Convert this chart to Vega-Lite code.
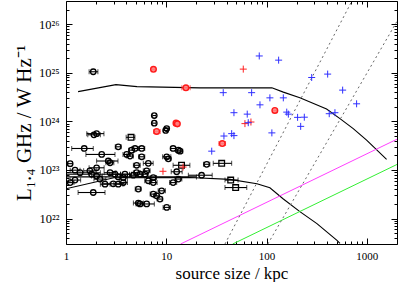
{
  "$schema": "https://vega.github.io/schema/vega-lite/v6.json",
  "width": 331,
  "height": 243,
  "autosize": {"type": "none"},
  "padding": {"left": 66, "top": 1, "right": 2, "bottom": 38},
  "background": "white",
  "config": {
    "view": {"stroke": "black", "strokeWidth": 1},
    "font": "Liberation Serif",
    "axis": {
      "labelFont": "Liberation Serif", "titleFont": "Liberation Serif",
      "labelColor": "black", "titleColor": "black", "tickColor": "black",
      "domain": false, "grid": false, "labelFontSize": 11,
      "titleFontWeight": "normal", "titleFontSize": 17
    }
  },
  "datasets": {
    "curves": [
      {"s": "up", "i": 1, "x": 1.32, "y": 4.1e24},
      {"s": "up", "i": 2, "x": 3.15, "y": 5.7e24},
      {"s": "up", "i": 3, "x": 5.1, "y": 5.2e24},
      {"s": "up", "i": 4, "x": 21.7, "y": 4.9e24},
      {"s": "up", "i": 5, "x": 113, "y": 4.9e24},
      {"s": "up", "i": 6, "x": 147, "y": 4.0e24},
      {"s": "up", "i": 7, "x": 215, "y": 3.05e24},
      {"s": "up", "i": 8, "x": 397, "y": 1.8e24},
      {"s": "up", "i": 9, "x": 540, "y": 1.14e24},
      {"s": "up", "i": 10, "x": 732, "y": 7.1e23},
      {"s": "up", "i": 11, "x": 995, "y": 4.1e23},
      {"s": "up", "i": 12, "x": 1575, "y": 1.65e23},
      {"s": "lo", "i": 1, "x": 1, "y": 4.1e22},
      {"s": "lo", "i": 2, "x": 3.0, "y": 6.9e22},
      {"s": "lo", "i": 3, "x": 17.2, "y": 7.0e22},
      {"s": "lo", "i": 4, "x": 43.2, "y": 6.4e22},
      {"s": "lo", "i": 5, "x": 80.2, "y": 5.2e22},
      {"s": "lo", "i": 6, "x": 108, "y": 4.3e22},
      {"s": "lo", "i": 7, "x": 146, "y": 2.56e22},
      {"s": "lo", "i": 8, "x": 215, "y": 1.39e22},
      {"s": "lo", "i": 9, "x": 318, "y": 7.9e21},
      {"s": "lo", "i": 10, "x": 504, "y": 3.56e21},
      {"s": "lo", "i": 11, "x": 540, "y": 3.1e21},
      {"s": "m", "i": 1, "x": 13.9, "y": 3e21},
      {"s": "m", "i": 2, "x": 2000, "y": 4.3e23},
      {"s": "g", "i": 1, "x": 46, "y": 3e21},
      {"s": "g", "i": 2, "x": 2000, "y": 1.3e23},
      {"s": "d1", "i": 1, "x": 38.5, "y": 3e21},
      {"s": "d1", "i": 2, "x": 710, "y": 3e26},
      {"s": "d2", "i": 1, "x": 103, "y": 3e21},
      {"s": "d2", "i": 2, "x": 2000, "y": 1.15e26}
    ],
    "pts": [
      {"g": "bc", "x": 1.87, "y": 1.05e25, "lo": 1.70, "hi": 2.08},
      {"g": "bc", "x": 7.59, "y": 1.32e24, "lo": 7.3, "hi": 7.9},
      {"g": "bc", "x": 7.59, "y": 9.2e23, "lo": 7.3, "hi": 7.9},
      {"g": "bc", "x": 10.1, "y": 7.1e23, "lo": 9.6, "hi": 10.6},
      {"g": "bc", "x": 9.86, "y": 6.5e23, "lo": 9.4, "hi": 10.3},
      {"g": "bc", "x": 2.02, "y": 5.6e23, "lo": 1.61, "hi": 2.39},
      {"g": "bc", "x": 1.90, "y": 5.3e23, "lo": 1.65, "hi": 2.2},
      {"g": "bc", "x": 1.52, "y": 2.77e23, "lo": 1.14, "hi": 1.87},
      {"g": "bc", "x": 2.27, "y": 2.09e23, "lo": 1.58, "hi": 3.08},
      {"g": "bc", "x": 4.52, "y": 2.56e23, "lo": 4.2, "hi": 4.85},
      {"g": "bc", "x": 4.88, "y": 2.77e23, "lo": 4.55, "hi": 5.2},
      {"g": "bc", "x": 5.69, "y": 2.77e23, "lo": 5.3, "hi": 6.1},
      {"g": "bc", "x": 4.03, "y": 2.09e23, "lo": 3.7, "hi": 4.4},
      {"g": "bc", "x": 4.35, "y": 1.93e23, "lo": 4.0, "hi": 4.7},
      {"g": "bc", "x": 2.64, "y": 1.53e23, "lo": 2.02, "hi": 3.3},
      {"g": "bc", "x": 2.75, "y": 1.41e23, "lo": 2.5, "hi": 3.0},
      {"g": "bc", "x": 5.69, "y": 1.87e23, "lo": 5.3, "hi": 6.1},
      {"g": "bc", "x": 5.07, "y": 1.25e23, "lo": 4.7, "hi": 5.5},
      {"g": "bc", "x": 6.62, "y": 1.37e23, "lo": 5.9, "hi": 7.4},
      {"g": "bc", "x": 11.7, "y": 2.77e23, "lo": 11.0, "hi": 12.4},
      {"g": "bc", "x": 13.2, "y": 2.56e23, "lo": 12.4, "hi": 14.0},
      {"g": "bc", "x": 10.1, "y": 1.87e23, "lo": 9.2, "hi": 11.1},
      {"g": "bc", "x": 10.5, "y": 1.7e23, "lo": 9.9, "hi": 11.1},
      {"g": "bc", "x": 1.10, "y": 1.35e23, "lo": 1.04, "hi": 1.16},
      {"g": "bc", "x": 2.02, "y": 1.11e23, "lo": 1.7, "hi": 2.4},
      {"g": "bc", "x": 1.73, "y": 9.6e22, "lo": 1.5, "hi": 2.0},
      {"g": "bc", "x": 1.23, "y": 9.9e22, "lo": 1.1, "hi": 1.38},
      {"g": "bc", "x": 1.38, "y": 8.8e22, "lo": 1.0, "hi": 2.2},
      {"g": "bc", "x": 1.80, "y": 8.2e22, "lo": 1.0, "hi": 4.5},
      {"g": "bc", "x": 2.75, "y": 8.8e22, "lo": 2.4, "hi": 3.15},
      {"g": "bc", "x": 3.08, "y": 8.2e22, "lo": 2.7, "hi": 3.5},
      {"g": "bc", "x": 3.87, "y": 8.2e22, "lo": 3.5, "hi": 4.3},
      {"g": "bc", "x": 5.07, "y": 8.8e22, "lo": 4.7, "hi": 5.5},
      {"g": "bc", "x": 6.38, "y": 9.6e22, "lo": 5.9, "hi": 6.9},
      {"g": "bc", "x": 4.69, "y": 7.8e22, "lo": 4.3, "hi": 5.1},
      {"g": "bc", "x": 5.47, "y": 8.2e22, "lo": 5.1, "hi": 5.9},
      {"g": "bc", "x": 6.13, "y": 8.2e22, "lo": 5.7, "hi": 6.6},
      {"g": "bc", "x": 7.42, "y": 7.0e22, "lo": 6.9, "hi": 8.0},
      {"g": "bc", "x": 12.7, "y": 9.2e22, "lo": 11.2, "hi": 14.4},
      {"g": "bc", "x": 3.32, "y": 7.2e22, "lo": 1.0, "hi": 20},
      {"g": "bc", "x": 3.73, "y": 7.0e22, "lo": 3.4, "hi": 4.1},
      {"g": "bc", "x": 2.02, "y": 7.5e22, "lo": 1.8, "hi": 2.3},
      {"g": "bc", "x": 1.23, "y": 6.2e22, "lo": 1.1, "hi": 1.4},
      {"g": "bc", "x": 1.10, "y": 5.5e22, "lo": 1.0, "hi": 1.2},
      {"g": "bc", "x": 2.18, "y": 6.5e22, "lo": 1.9, "hi": 2.5},
      {"g": "bc", "x": 2.96, "y": 5.2e22, "lo": 2.3, "hi": 3.8},
      {"g": "bc", "x": 2.45, "y": 5.1e22, "lo": 2.2, "hi": 2.75},
      {"g": "bc", "x": 3.32, "y": 5.1e22, "lo": 3.0, "hi": 3.7},
      {"g": "bc", "x": 3.73, "y": 5.5e22, "lo": 3.4, "hi": 4.1},
      {"g": "bc", "x": 6.62, "y": 6.0e22, "lo": 6.1, "hi": 7.2},
      {"g": "bc", "x": 7.42, "y": 5.5e22, "lo": 6.8, "hi": 8.1},
      {"g": "bc", "x": 11.7, "y": 5.5e22, "lo": 10.8, "hi": 12.7},
      {"g": "bc", "x": 13.2, "y": 6.5e22, "lo": 12.2, "hi": 14.3},
      {"g": "bc", "x": 1.87, "y": 3.44e22, "lo": 1.32, "hi": 2.45},
      {"g": "bc", "x": 5.26, "y": 4.04e22, "lo": 4.9, "hi": 5.6},
      {"g": "bc", "x": 7.42, "y": 3.19e22, "lo": 6.9, "hi": 8.0},
      {"g": "bc", "x": 8.02, "y": 2.94e22, "lo": 7.5, "hi": 8.6},
      {"g": "bc", "x": 9.0, "y": 3.73e22, "lo": 8.3, "hi": 9.8},
      {"g": "bc", "x": 8.65, "y": 2.52e22, "lo": 8.1, "hi": 9.2},
      {"g": "bc", "x": 5.26, "y": 2.09e22, "lo": 4.7, "hi": 5.9},
      {"g": "bc", "x": 5.47, "y": 2.0e22, "lo": 5.0, "hi": 6.0},
      {"g": "bc", "x": 6.38, "y": 2.0e22, "lo": 5.8, "hi": 7.6},
      {"g": "bc", "x": 10.1, "y": 1.7e22, "lo": 9.3, "hi": 11.0},
      {"g": "bc", "x": 22.5, "y": 7.8e22, "lo": 16.6, "hi": 28.7},
      {"g": "bc", "x": 25.3, "y": 1.31e23, "lo": 23.5, "hi": 27.2},
      {"g": "bc", "x": 3.32, "y": 3.0e23, "lo": 3.1, "hi": 3.55},
      {"g": "bc", "x": 13.7, "y": 2.44e23, "lo": 12.8, "hi": 14.6},
      {"g": "bs", "x": 35.7, "y": 1.37e23, "lo": 29.4, "hi": 44.9},
      {"g": "bs", "x": 43.9, "y": 6.2e22, "lo": 38.5, "hi": 52},
      {"g": "bs", "x": 49.2, "y": 4.35e22, "lo": 38.5, "hi": 63.5},
      {"g": "bs", "x": 4.45, "y": 4.7e23, "lo": 3.98, "hi": 4.87},
      {"g": "bs", "x": 14.2, "y": 1.25e23, "lo": 11.7, "hi": 17.2},
      {"g": "rc", "x": 7.45, "y": 1.18e25, "lo": 7.2, "hi": 7.7},
      {"g": "rc", "x": 15.7, "y": 4.9e24, "lo": 14.3, "hi": 17.3},
      {"g": "rc", "x": 12.5, "y": 9.2e23, "lo": 12.0, "hi": 13.0},
      {"g": "rc", "x": 12.9, "y": 8.9e23, "lo": 12.4, "hi": 13.4},
      {"g": "rc", "x": 8.02, "y": 6.2e23, "lo": 7.5, "hi": 8.7},
      {"g": "rc", "x": 121, "y": 1.68e24, "lo": 115, "hi": 127},
      {"g": "rc", "x": 36.2, "y": 3.5e23, "lo": 33.5, "hi": 39},
      {"g": "rx", "x": 58.6, "y": 1.19e25},
      {"g": "rx", "x": 60.9, "y": 9.0e23},
      {"g": "rx", "x": 69.9, "y": 9.7e23},
      {"g": "rx", "x": 9.27, "y": 9.4e22},
      {"g": "rx", "x": 14.7, "y": 1.15e23},
      {"g": "bx", "x": 84.6, "y": 2.22e25},
      {"g": "bx", "x": 132, "y": 1.82e25},
      {"g": "bx", "x": 282, "y": 8.0e24},
      {"g": "bx", "x": 407, "y": 9.4e24},
      {"g": "bx", "x": 574, "y": 4.4e24},
      {"g": "bx", "x": 37.0, "y": 3.9e24},
      {"g": "bx", "x": 71.0, "y": 3.9e24},
      {"g": "bx", "x": 108, "y": 3.05e24},
      {"g": "bx", "x": 147, "y": 3.05e24},
      {"g": "bx", "x": 86, "y": 2.19e24},
      {"g": "bx", "x": 791, "y": 2.3e24},
      {"g": "bx", "x": 47.3, "y": 1.51e24},
      {"g": "bx", "x": 64.2, "y": 1.41e24},
      {"g": "bx", "x": 159, "y": 1.55e24},
      {"g": "bx", "x": 165, "y": 1.41e24},
      {"g": "bx", "x": 204, "y": 1.21e24},
      {"g": "bx", "x": 238, "y": 1.22e24},
      {"g": "bx", "x": 422, "y": 1.44e24},
      {"g": "bx", "x": 481, "y": 1.51e24},
      {"g": "bx", "x": 65.7, "y": 9.4e23},
      {"g": "bx", "x": 219, "y": 7.9e23},
      {"g": "bx", "x": 44.9, "y": 5.6e23},
      {"g": "bx", "x": 47.3, "y": 5.1e23},
      {"g": "bx", "x": 37.6, "y": 5.0e23},
      {"g": "bx", "x": 113, "y": 5.8e23},
      {"g": "bx", "x": 28.4, "y": 2.44e23}
    ]
  },
  "resolve": {"axis": {"x": "independent", "y": "independent"}},
  "layer": [
    {
      "data": {"name": "curves"},
      "transform": [{"filter": "datum.s == 'up'"}],
      "mark": {"type": "line", "color": "black", "strokeWidth": 1.1, "clip": true},
      "encoding": {
        "x": {"field": "x", "type": "quantitative", "scale": {"type": "log", "domain": [1, 2000], "nice": false},
          "axis": {"orient": "bottom", "values": [1, 10, 100, 1000], "tickSize": -6, "labelPadding": 12, "title": "source size / kpc", "titlePadding": 4, "format": "d", "labelFlush": false}},
        "y": {"field": "y", "type": "quantitative", "scale": {"type": "log", "domain": [3e21, 3e26], "nice": false},
          "axis": {"orient": "left", "values": [1e22, 1e23, 1e24, 1e25, 1e26], "tickSize": -6, "labelPadding": 13, "labelFontSize": 12.5, "title": "L₁.₄ GHz / W Hz⁻¹", "titleFontSize": 21, "titlePadding": 4, "labelFlush": false,
            "labelExpr": "datum.value < 5e22 ? '10²²' : datum.value < 5e23 ? '10²³' : datum.value < 5e24 ? '10²⁴' : datum.value < 5e25 ? '10²⁵' : '10²⁶'"}},
        "order": {"field": "i", "type": "quantitative"}
      }
    },
    {
      "data": {"name": "curves"},
      "transform": [{"filter": "datum.s == 'lo'"}],
      "mark": {"type": "line", "color": "black", "strokeWidth": 1.1, "clip": true},
      "encoding": {
        "x": {"field": "x", "type": "quantitative", "scale": {"type": "log", "domain": [1, 2000], "nice": false},
          "axis": {"orient": "bottom", "values": [2, 3, 4, 5, 6, 7, 8, 9, 20, 30, 40, 50, 60, 70, 80, 90, 200, 300, 400, 500, 600, 700, 800, 900, 2000], "tickSize": -3, "labels": false, "title": null}},
        "y": {"field": "y", "type": "quantitative", "scale": {"type": "log", "domain": [3e21, 3e26], "nice": false},
          "axis": {"orient": "left", "values": [4e21, 5e21, 6e21, 7e21, 8e21, 9e21, 2e22, 3e22, 4e22, 5e22, 6e22, 7e22, 8e22, 9e22, 2e23, 3e23, 4e23, 5e23, 6e23, 7e23, 8e23, 9e23, 2e24, 3e24, 4e24, 5e24, 6e24, 7e24, 8e24, 9e24, 2e25, 3e25, 4e25, 5e25, 6e25, 7e25, 8e25, 9e25, 2e26], "tickSize": -3, "labels": false, "title": null}},
        "order": {"field": "i", "type": "quantitative"}
      }
    },
    {
      "data": {"name": "curves"},
      "transform": [{"filter": "datum.s == 'm'"}],
      "mark": {"type": "line", "color": "#ff40ff", "strokeWidth": 1, "clip": true},
      "encoding": {
        "x": {"field": "x", "type": "quantitative", "scale": {"type": "log", "domain": [1, 2000], "nice": false},
          "axis": {"orient": "top", "values": [1, 10, 100, 1000], "tickSize": -6, "labels": false, "title": null}},
        "y": {"field": "y", "type": "quantitative", "scale": {"type": "log", "domain": [3e21, 3e26], "nice": false},
          "axis": {"orient": "right", "values": [1e22, 1e23, 1e24, 1e25, 1e26], "tickSize": -6, "labels": false, "title": null}},
        "order": {"field": "i", "type": "quantitative"}
      }
    },
    {
      "data": {"name": "curves"},
      "transform": [{"filter": "datum.s == 'g'"}],
      "mark": {"type": "line", "color": "#33ee33", "strokeWidth": 1, "clip": true},
      "encoding": {
        "x": {"field": "x", "type": "quantitative", "scale": {"type": "log", "domain": [1, 2000], "nice": false},
          "axis": {"orient": "top", "values": [2, 3, 4, 5, 6, 7, 8, 9, 20, 30, 40, 50, 60, 70, 80, 90, 200, 300, 400, 500, 600, 700, 800, 900, 2000], "tickSize": -3, "labels": false, "title": null}},
        "y": {"field": "y", "type": "quantitative", "scale": {"type": "log", "domain": [3e21, 3e26], "nice": false},
          "axis": {"orient": "right", "values": [4e21, 5e21, 6e21, 7e21, 8e21, 9e21, 2e22, 3e22, 4e22, 5e22, 6e22, 7e22, 8e22, 9e22, 2e23, 3e23, 4e23, 5e23, 6e23, 7e23, 8e23, 9e23, 2e24, 3e24, 4e24, 5e24, 6e24, 7e24, 8e24, 9e24, 2e25, 3e25, 4e25, 5e25, 6e25, 7e25, 8e25, 9e25, 2e26], "tickSize": -3, "labels": false, "title": null}},
        "order": {"field": "i", "type": "quantitative"}
      }
    },
    {
      "data": {"name": "curves"},
      "transform": [{"filter": "datum.s == 'd1' || datum.s == 'd2'"}],
      "mark": {"type": "line", "color": "#666666", "strokeWidth": 1, "strokeDash": [2, 3], "clip": true},
      "encoding": {
        "x": {"field": "x", "type": "quantitative", "scale": {"type": "log", "domain": [1, 2000], "nice": false}, "axis": null},
        "y": {"field": "y", "type": "quantitative", "scale": {"type": "log", "domain": [3e21, 3e26], "nice": false}, "axis": null},
        "detail": {"field": "s"},
        "order": {"field": "i", "type": "quantitative"}
      }
    },
    {
      "data": {"name": "pts"},
      "transform": [{"filter": "isValid(datum.lo)"}],
      "mark": {"type": "rule", "strokeWidth": 1.1, "clip": true},
      "encoding": {
        "x": {"field": "lo", "type": "quantitative", "scale": {"type": "log", "domain": [1, 2000], "nice": false}, "axis": null},
        "x2": {"field": "hi"},
        "y": {"field": "y", "type": "quantitative", "scale": {"type": "log", "domain": [3e21, 3e26], "nice": false}, "axis": null},
        "color": {"field": "g", "type": "nominal", "scale": {"domain": ["bc", "bs", "rc", "rx", "bx"], "range": ["#000000", "#000000", "#ff2020", "#ff2020", "#3030ff"]}, "legend": null}
      }
    },
    {
      "data": {"name": "pts"},
      "transform": [{"filter": "isValid(datum.lo)"}],
      "mark": {"type": "tick", "orient": "vertical", "size": 5, "thickness": 1, "clip": true},
      "encoding": {
        "x": {"field": "lo", "type": "quantitative", "scale": {"type": "log", "domain": [1, 2000], "nice": false}, "axis": null},
        "y": {"field": "y", "type": "quantitative", "scale": {"type": "log", "domain": [3e21, 3e26], "nice": false}, "axis": null},
        "color": {"field": "g", "type": "nominal", "legend": null}
      }
    },
    {
      "data": {"name": "pts"},
      "transform": [{"filter": "isValid(datum.hi)"}],
      "mark": {"type": "tick", "orient": "vertical", "size": 5, "thickness": 1, "clip": true},
      "encoding": {
        "x": {"field": "hi", "type": "quantitative", "scale": {"type": "log", "domain": [1, 2000], "nice": false}, "axis": null},
        "y": {"field": "y", "type": "quantitative", "scale": {"type": "log", "domain": [3e21, 3e26], "nice": false}, "axis": null},
        "color": {"field": "g", "type": "nominal", "legend": null}
      }
    },
    {
      "data": {"name": "pts"},
      "transform": [{"filter": "datum.g == 'bc'"}],
      "mark": {"type": "point", "shape": "circle", "size": 30, "strokeWidth": 1.3, "filled": false, "opacity": 1, "color": "black"},
      "encoding": {
        "x": {"field": "x", "type": "quantitative", "scale": {"type": "log", "domain": [1, 2000], "nice": false}, "axis": null},
        "y": {"field": "y", "type": "quantitative", "scale": {"type": "log", "domain": [3e21, 3e26], "nice": false}, "axis": null}
      }
    },
    {
      "data": {"name": "pts"},
      "transform": [{"filter": "datum.g == 'rc'"}],
      "mark": {"type": "point", "shape": "circle", "size": 32, "strokeWidth": 1.4, "fill": "#ff8080", "fillOpacity": 0.9, "stroke": "#ff1a1a", "opacity": 1},
      "encoding": {
        "x": {"field": "x", "type": "quantitative", "scale": {"type": "log", "domain": [1, 2000], "nice": false}, "axis": null},
        "y": {"field": "y", "type": "quantitative", "scale": {"type": "log", "domain": [3e21, 3e26], "nice": false}, "axis": null}
      }
    },
    {
      "data": {"name": "pts"},
      "transform": [{"filter": "datum.g == 'bs'"}],
      "mark": {"type": "point", "shape": "square", "size": 32, "strokeWidth": 1.3, "filled": false, "opacity": 1, "color": "black"},
      "encoding": {
        "x": {"field": "x", "type": "quantitative", "scale": {"type": "log", "domain": [1, 2000], "nice": false}, "axis": null},
        "y": {"field": "y", "type": "quantitative", "scale": {"type": "log", "domain": [3e21, 3e26], "nice": false}, "axis": null}
      }
    },
    {
      "data": {"name": "pts"},
      "transform": [{"filter": "datum.g == 'bx' || datum.g == 'rx'"}],
      "mark": {"type": "point", "shape": "M-1,0L1,0M0,-1L0,1", "size": 49, "strokeWidth": 1, "filled": false, "opacity": 1},
      "encoding": {
        "x": {"field": "x", "type": "quantitative", "scale": {"type": "log", "domain": [1, 2000], "nice": false}, "axis": null},
        "y": {"field": "y", "type": "quantitative", "scale": {"type": "log", "domain": [3e21, 3e26], "nice": false}, "axis": null},
        "color": {"field": "g", "type": "nominal", "legend": null}
      }
    }
  ]
}
